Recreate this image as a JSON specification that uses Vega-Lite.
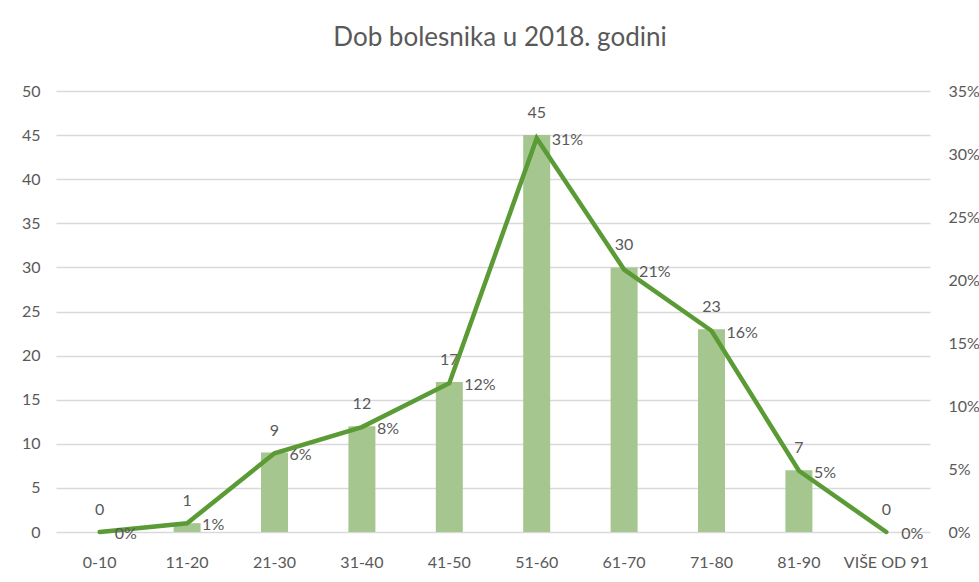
{
  "$schema": "https://vega.github.io/schema/vega-lite/v6.json",
  "width": 874,
  "height": 441,
  "autosize": {"type": "none"},
  "padding": {"left": 56, "top": 91, "right": 49, "bottom": 50},
  "background": "white",
  "config": {
    "view": {"stroke": null},
    "font": "Lato",
    "axis": {"labelFont": "Lato", "labelColor": "#595959", "labelFontSize": 16, "titleFont": "Lato"}
  },
  "title": {
    "text": "Dob bolesnika u 2018. godini",
    "font": "Lato",
    "fontSize": 26,
    "fontWeight": "normal",
    "color": "#595959",
    "anchor": "middle",
    "offset": 32,
    "dx": 7
  },
  "data": {
    "values": [
      {"dob": "0-10", "broj": 0, "udio": 0},
      {"dob": "11-20", "broj": 1, "udio": 0.0069},
      {"dob": "21-30", "broj": 9, "udio": 0.0625},
      {"dob": "31-40", "broj": 12, "udio": 0.0833},
      {"dob": "41-50", "broj": 17, "udio": 0.1181},
      {"dob": "51-60", "broj": 45, "udio": 0.3125},
      {"dob": "61-70", "broj": 30, "udio": 0.2083},
      {"dob": "71-80", "broj": 23, "udio": 0.1597},
      {"dob": "81-90", "broj": 7, "udio": 0.0486},
      {"dob": "VIŠE OD 91", "broj": 0, "udio": 0}
    ]
  },
  "encoding": {
    "x": {
      "field": "dob",
      "type": "nominal",
      "sort": null,
      "scale": {"paddingInner": 0, "paddingOuter": 0},
      "axis": {"title": null, "labelAngle": 0, "domain": false, "ticks": false, "labelPadding": 22}
    }
  },
  "layer": [
    {
      "layer": [
        {
          "mark": {"type": "bar", "color": "#A5C78F", "width": 27},
          "encoding": {
            "y": {
              "field": "broj",
              "type": "quantitative",
              "scale": {"domain": [0, 50]},
              "axis": {
                "title": null,
                "values": [0, 5, 10, 15, 20, 25, 30, 35, 40, 45, 50],
                "domain": false,
                "ticks": false,
                "labelPadding": 16,
                "gridColor": "#D9D9D9",
                "gridWidth": 1.5
              }
            }
          }
        },
        {
          "mark": {"type": "text", "color": "#595959", "fontSize": 16, "baseline": "middle", "dy": -22},
          "encoding": {
            "y": {"field": "broj", "type": "quantitative"},
            "text": {"field": "broj", "type": "quantitative"}
          }
        }
      ]
    },
    {
      "layer": [
        {
          "mark": {"type": "line", "color": "#5B9B35", "strokeWidth": 4.5, "strokeCap": "round", "strokeJoin": "miter"},
          "encoding": {
            "y": {
              "field": "udio",
              "type": "quantitative",
              "scale": {"domain": [0, 0.35]},
              "axis": {
                "title": null,
                "orient": "right",
                "format": ".0%",
                "values": [0, 0.05, 0.1, 0.15, 0.2, 0.25, 0.3, 0.35],
                "grid": false,
                "domain": false,
                "ticks": false,
                "labelPadding": 18
              }
            }
          }
        },
        {
          "mark": {"type": "text", "color": "#595959", "fontSize": 16, "align": "left", "baseline": "middle", "dx": 15, "dy": 2},
          "encoding": {
            "y": {"field": "udio", "type": "quantitative"},
            "text": {"field": "udio", "type": "quantitative", "format": ".0%"}
          }
        }
      ]
    }
  ],
  "resolve": {"scale": {"y": "independent"}}
}
